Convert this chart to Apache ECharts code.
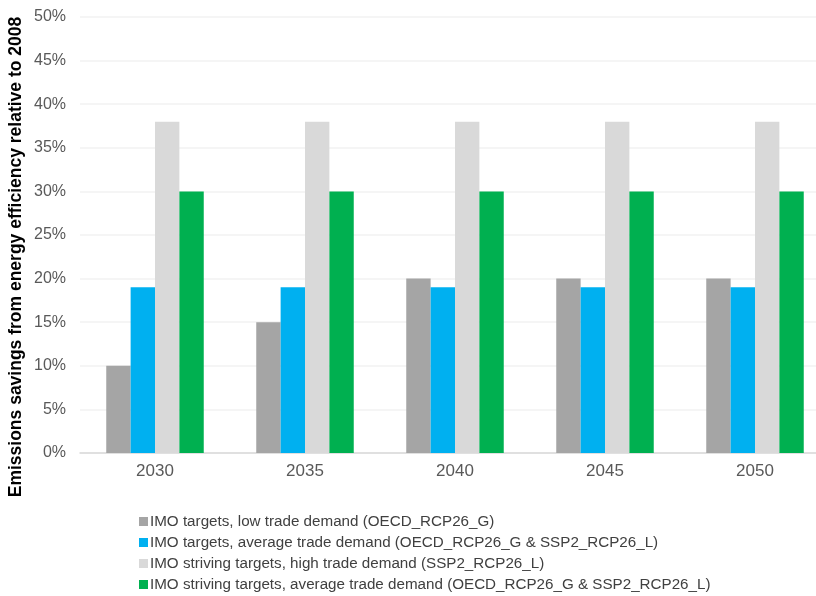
<!DOCTYPE html>
<html>
<head>
<meta charset="utf-8">
<script src="https://cdn.jsdelivr.net/npm/echarts@6/dist/echarts.min.js"></script>
<style>
  html, body { margin: 0; padding: 0; background: #fff; }
  #chart { width: 816px; height: 596px; }
</style>
</head>
<body>
<div id="chart"></div>
<script>
// Years on the category axis
const years = ['2030', '2035', '2040', '2045', '2050'];

// Emissions savings (%) per scenario
const lowTrade = [10, 15, 20, 20, 20];
const avgTrade = [19, 19, 19, 19, 19];
const strivingHigh = [38, 38, 38, 38, 38];
const strivingAvg = [30, 30, 30, 30, 30];

const seriesNames = [
  'IMO targets, low trade demand (OECD_RCP26_G)',
  'IMO targets, average trade demand (OECD_RCP26_G & SSP2_RCP26_L)',
  'IMO striving targets, high trade demand (SSP2_RCP26_L)',
  'IMO striving targets, average trade demand (OECD_RCP26_G & SSP2_RCP26_L)'
];
const seriesColors = ['#a5a5a5', '#00b0f0', '#d9d9d9', '#00b050'];
const seriesData = [lowTrade, avgTrade, strivingHigh, strivingAvg];

const font = 'Liberation Sans, Arial, sans-serif';

const chart = echarts.init(document.getElementById('chart'));
chart.setOption({
  animation: false,
  textStyle: { fontFamily: font },
  // plot area runs past the right edge of the canvas
  grid: { left: 80, top: 17, width: 750, height: 436, containLabel: false, outerBoundsMode: 'none' },
  legend: {
    orient: 'vertical',
    left: 134,
    top: 509,
    height: 90,
    itemWidth: 9,
    itemHeight: 9,
    itemGap: 6,
    icon: 'rect',
    textStyle: { fontFamily: font, fontSize: 15.2, color: '#404040', padding: [0, 0, 0, -3] },
    data: seriesNames
  },
  graphic: [{
    type: 'text',
    x: 16,
    y: 257,
    rotation: Math.PI / 2,
    style: {
      text: 'Emissions savings from energy efficiency relative to 2008',
      font: 'bold 17.5px ' + font,
      fill: '#000',
      align: 'center',
      verticalAlign: 'middle'
    }
  }],
  xAxis: {
    type: 'category',
    data: years,
    axisLine: { lineStyle: { color: '#d9d9d9', width: 1.5 } },
    axisTick: { show: false },
    axisLabel: { fontSize: 17, color: '#595959', margin: 10, fontFamily: font }
  },
  yAxis: {
    type: 'value',
    min: 0,
    max: 50,
    interval: 5,
    axisLine: { show: false },
    axisTick: { show: false },
    axisLabel: { fontSize: 16, color: '#595959', margin: 14, formatter: '{value}%', fontFamily: font },
    splitLine: { lineStyle: { color: '#f2f2f2', width: 1.5 } }
  },
  series: seriesNames.map((name, i) => ({
    name,
    type: 'bar',
    data: seriesData[i],
    barGap: '0%',
    barCategoryGap: '35%',
    itemStyle: { color: seriesColors[i] }
  }))
});
</script>
</body>
</html>
